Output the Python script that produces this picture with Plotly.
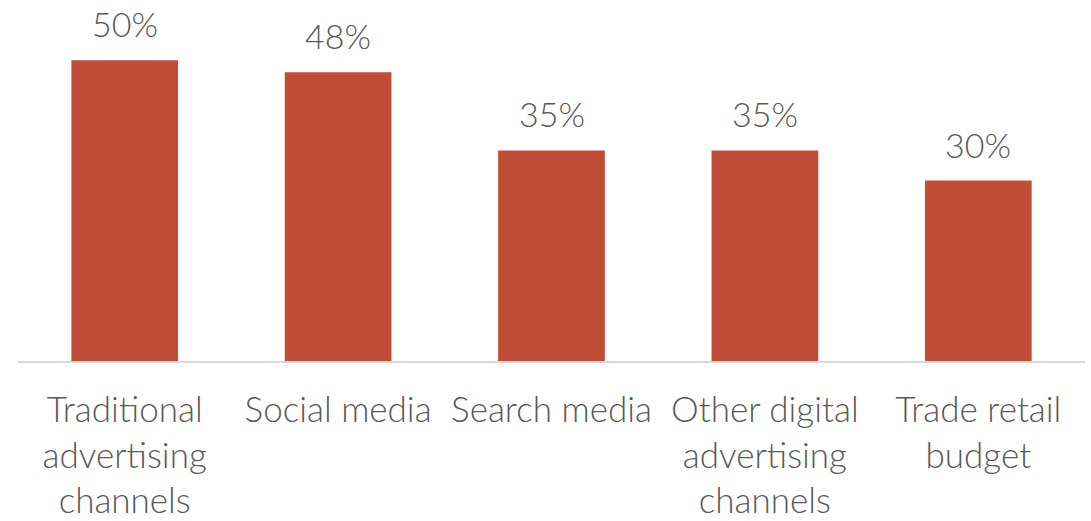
import plotly.graph_objects as go

categories = [
    "Traditional<br>advertising<br>channels",
    "Social media",
    "Search media",
    "Other digital<br>advertising<br>channels",
    "Trade retail<br>budget",
]
values = [50, 48, 35, 35, 30]
value_labels = ["50%", "48%", "35%", "35%", "30%"]

bar_color = "#C04D36"
text_color = "#595959"
font_family = "Lato, 'Open Sans', sans-serif"

fig = go.Figure(
    go.Bar(
        x=categories,
        y=values,
        marker=dict(color=bar_color, line=dict(width=0)),
        hoverinfo="skip",
    )
)

for cat, val, lab in zip(categories, values, value_labels):
    fig.add_annotation(
        x=cat, y=val, text=lab, showarrow=False,
        yanchor="bottom", yshift=14,
        font=dict(family=font_family, size=34, color=text_color, weight=300),
    )

fig.update_layout(
    width=1091, height=521,
    margin=dict(l=18, r=6, t=0, b=160),
    paper_bgcolor="white", plot_bgcolor="white",
    bargap=0.5,
    showlegend=False,
    font=dict(family=font_family, size=35, color=text_color),
)
fig.update_xaxes(
    showline=True, linecolor="#D9D9D9", linewidth=2,
    ticks="", ticklabelstandoff=17, automargin=False,
    tickfont=dict(family=font_family, size=35, color=text_color, weight=300),
    showgrid=False,
)
fig.update_yaxes(range=[0, 60], visible=False, showgrid=False, automargin=False)

fig.write_html("out.html")
